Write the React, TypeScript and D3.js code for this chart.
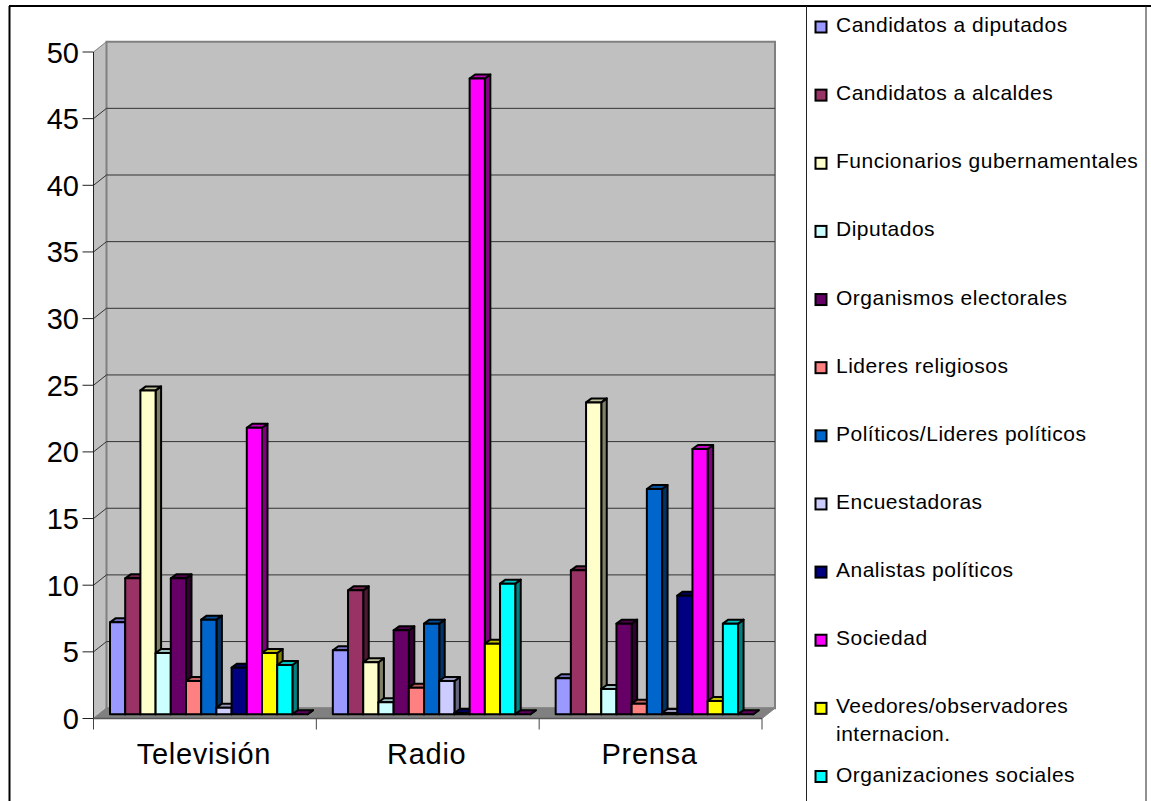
import React from "react";
import * as d3 from "d3";

const categories = ["Televisión", "Radio", "Prensa"];
const seriesNames = [
  "Candidatos a diputados", "Candidatos a alcaldes", "Funcionarios gubernamentales", "Diputados",
  "Organismos electorales", "Lideres religiosos", "Políticos/Lideres políticos", "Encuestadoras",
  "Analistas políticos", "Sociedad", "Veedores/observadores internacion.", "Organizaciones sociales", "Otros",
];
const seriesColors = ["#9999ff", "#993366", "#ffffcc", "#ccffff", "#660066", "#ff8080", "#0066cc", "#ccccff", "#000080", "#ff00ff", "#ffff00", "#00ffff", "#800080"];
const television = [6.9, 10.2, 24.3, 4.6, 10.2, 2.5, 7.1, 0.5, 3.5, 21.5, 4.6, 3.7, 0];
const radio = [4.8, 9.3, 3.9, 0.9, 6.3, 2, 6.8, 2.5, 0.1, 47.7, 5.3, 9.8, 0];
const prensa = [2.7, 10.8, 23.4, 1.9, 6.8, 0.8, 16.9, 0.1, 8.9, 19.9, 1, 6.8, 0];
const groups = [television, radio, prensa];
const yTicks = [0, 5, 10, 15, 20, 25, 30, 35, 40, 45, 50];
const legendCount = 12;

const FONT = "'Liberation Sans', Arial, sans-serif";
const W = 1151, H = 801;
const left = 93.5, right = 762, y0 = 718.5, y50 = 52;
const wallDx = 13, wallDy = 10.3;
const barDx = 5.5, barDy = 4;

const scaleShade = (c: string, k: number) => {
  const r = d3.rgb(c);
  return d3.rgb(r.r * k, r.g * k, r.b * k).formatHex();
};

export default function App() {
  const y = d3.scaleLinear().domain([0, 50]).range([y0, y50]);
  const x = d3.scaleBand().domain(categories).range([left, right]);
  const inner = d3.scaleBand().domain(seriesNames).range([16.5, 16.5 + 15.2 * seriesNames.length]);
  const baseShift = y0 - 714.3;
  const legendY = d3.scaleLinear().domain([0, 11]).range([27, 776.5]);
  const poly = (pts: number[][]) => d3.line()(pts as [number, number][]) + "Z";

  return (
    <svg width={W} height={H} style={{ position: "fixed", left: 0, top: 0, background: "#fff" }} fontFamily={FONT}>
      <rect x={0} y={0} width={W} height={H} fill="#fff" />
      {/* outer frame */}
      <line x1={9.5} y1={6} x2={9.5} y2={H} stroke="#000" strokeWidth={2} />
      <line x1={9} y1={6} x2={W} y2={6} stroke="#000" strokeWidth={2} />
      <line x1={806.5} y1={6} x2={806.5} y2={H} stroke="#222" strokeWidth={1} />
      <line x1={1146} y1={6} x2={1146} y2={H} stroke="#222" strokeWidth={1} />

      {/* walls and floor */}
      <path d={poly([[left, y50], [left + wallDx, y50 - wallDy], [left + wallDx, y0 - wallDy], [left, y0]])} fill="#c0c0c0" stroke="#808080" strokeWidth={1} />
      <path d={poly([[left + wallDx, y50 - wallDy], [right + wallDx, y50 - wallDy], [right + wallDx, y0 - wallDy], [left + wallDx, y0 - wallDy]])} fill="#c0c0c0" stroke="#808080" strokeWidth={2} />
      <path d={poly([[left, y0], [left + wallDx, y0 - wallDy], [right + wallDx, y0 - wallDy], [right, y0]])} fill="#808080" stroke="#808080" strokeWidth={1} />

      {/* gridlines */}
      {yTicks.filter((t) => t > 0 && t < 50).map((t) => (
        <path key={t} d={`M${left},${y(t)}L${left + wallDx},${y(t) - wallDy}H${right + wallDx}`} fill="none" stroke="#333" strokeWidth={1} />
      ))}

      {/* axes */}
      <line x1={left} y1={y50} x2={left} y2={y0} stroke="#222" strokeWidth={1} />
      <line x1={left} y1={y0} x2={right} y2={y0} stroke="#555" strokeWidth={1.5} />
      {yTicks.map((t) => (
        <g key={t}>
          <line x1={left - 11} x2={left} y1={y(t)} y2={y(t)} stroke="#222" strokeWidth={1} />
          <text x={79} y={y(t) + 10.5} textAnchor="end" fontSize={29} fill="#000">{t}</text>
        </g>
      ))}
      {[...categories.map((c) => x(c)!), right].map((px, i) => (
        <line key={i} x1={px} x2={px} y1={y0} y2={y0 + 11} stroke="#444" strokeWidth={1} />
      ))}
      {categories.map((c) => (
        <text key={c} x={x(c)! + x.bandwidth() / 2 - 1} y={764} textAnchor="middle" fontSize={29} letterSpacing={0.7} fill="#000">{c}</text>
      ))}

      {/* bars */}
      {categories.map((c, gi) => (
        <g key={c}>
          {seriesNames.map((s, si) => {
            const v = groups[gi][si];
            const bx = x(c)! + inner(s)!;
            const bw = inner.bandwidth();
            const top = y(v) - baseShift;
            const base = y0 - baseShift;
            const col = seriesColors[si];
            return (
              <g key={s} stroke="#000" strokeWidth={2} strokeLinejoin="round">
                <path d={poly([[bx + bw, top], [bx + bw + barDx, top - barDy], [bx + bw + barDx, base - barDy], [bx + bw, base]])} fill={scaleShade(col, 0.5)} />
                <path d={poly([[bx, top], [bx + barDx, top - barDy], [bx + bw + barDx, top - barDy], [bx + bw, top]])} fill={scaleShade(col, 0.75)} />
                <rect x={bx} y={top} width={bw} height={base - top} fill={col} />
              </g>
            );
          })}
        </g>
      ))}

      {/* legend */}
      {seriesNames.slice(0, legendCount).map((s, i) => {
        const ly = legendY(i);
        const twoLine = s.startsWith("Veedores");
        return (
          <g key={s}>
            <rect x={815.5} y={ly - 5.5} width={11} height={11} fill={seriesColors[i]} stroke="#000" strokeWidth={2} />
            {twoLine ? (
              <text x={836} y={ly + 5} fontSize={21} letterSpacing={0.5} fill="#000">
                <tspan x={836}>Veedores/observadores</tspan>
                <tspan x={836} dy={28}>internacion.</tspan>
              </text>
            ) : (
              <text x={836} y={ly + 5} fontSize={21} letterSpacing={0.5} fill="#000">{s}</text>
            )}
          </g>
        );
      })}
    </svg>
  );
}
